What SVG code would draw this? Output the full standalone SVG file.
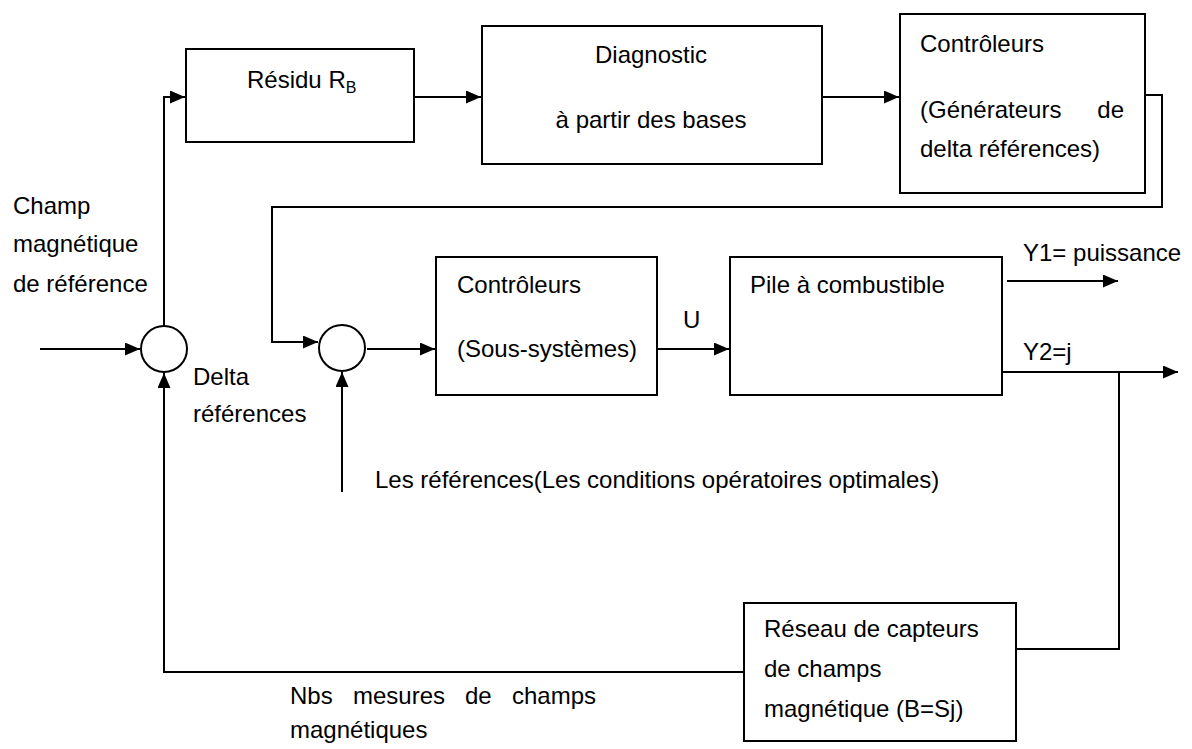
<svg xmlns="http://www.w3.org/2000/svg" width="1192" height="749" viewBox="0 0 1192 749">
<style>
text{font-family:"Liberation Sans",Arial,sans-serif;font-size:24px;fill:#000}
.box{fill:#fff;stroke:#000;stroke-width:2}
.ln{fill:none;stroke:#000;stroke-width:2}
.sub{font-size:16px}
.mid{text-anchor:middle}
.end{text-anchor:end}
</style>
<defs>
<marker id="ah" markerWidth="15" markerHeight="13" refX="15" refY="6.5" orient="auto" markerUnits="userSpaceOnUse">
<path d="M0,0 L15,6.5 L0,13 Z" fill="#000"/>
</marker>
</defs>
<rect width="1192" height="749" fill="#fff"/>
<g id="connectors">
<path class="ln" d="M164,326 V97 H185" marker-end="url(#ah)"/>
<path class="ln" d="M414,97 H481" marker-end="url(#ah)"/>
<path class="ln" d="M822,97 H899" marker-end="url(#ah)"/>
<path class="ln" d="M1145,95 H1162 V207 H272 V342 H318" marker-end="url(#ah)"/>
<path class="ln" d="M40,349 H140" marker-end="url(#ah)"/>
<path class="ln" d="M367,349 H435" marker-end="url(#ah)"/>
<path class="ln" d="M657,349 H729" marker-end="url(#ah)"/>
<path class="ln" d="M1007,281 H1118" marker-end="url(#ah)"/>
<path class="ln" d="M999,372 H1178" marker-end="url(#ah)"/>
<path class="ln" d="M1119,372 V649 H1016"/>
<path class="ln" d="M744,672 H164 V373" marker-end="url(#ah)"/>
<path class="ln" d="M342,492 V372" marker-end="url(#ah)"/>
</g>
<g id="residu">
<rect class="box" x="186" y="49" width="228" height="93"/>
<text x="247" y="88">Résidu R<tspan class="sub" dy="5">B</tspan></text>
</g>
<g id="diagnostic">
<rect class="box" x="482" y="26" width="340" height="138"/>
<text class="mid" x="651" y="63">Diagnostic</text>
<text class="mid" x="651" y="128">à partir des bases</text>
</g>
<g id="controleurs-gen">
<rect class="box" x="900" y="14" width="245" height="179"/>
<text x="920" y="52">Contrôleurs</text>
<text x="920" y="118">(Générateurs</text>
<text class="end" x="1124" y="118">de</text>
<text x="920" y="157">delta références)</text>
</g>
<g id="sum1">
<circle class="box" cx="164" cy="349" r="23"/>
</g>
<g id="sum2">
<circle class="box" cx="342" cy="348" r="23"/>
</g>
<g id="controleurs-sous">
<rect class="box" x="436" y="257" width="221" height="138"/>
<text x="457" y="293">Contrôleurs</text>
<text x="457" y="357">(Sous-systèmes)</text>
</g>
<g id="pile">
<rect class="box" x="730" y="257" width="272" height="138"/>
<text x="750" y="293">Pile à combustible</text>
</g>
<g id="reseau">
<rect class="box" x="744" y="603" width="272" height="138"/>
<text x="764" y="637">Réseau de capteurs</text>
<text x="764" y="677">de champs</text>
<text x="764" y="717">magnétique (B=Sj)</text>
</g>
<g id="labels">
<text x="13" y="214">Champ</text>
<text x="13" y="252">magnétique</text>
<text x="13" y="292">de référence</text>
<text x="193" y="385">Delta</text>
<text x="193" y="422">références</text>
<text x="683" y="328">U</text>
<text x="1023" y="261">Y1= puissance</text>
<text x="1023" y="360">Y2=j</text>
<text x="375" y="488">Les références(Les conditions opératoires optimales)</text>
<text x="290" y="704">Nbs</text>
<text x="353" y="704">mesures</text>
<text x="465" y="704">de</text>
<text class="end" x="596" y="704">champs</text>
<text x="290" y="738">magnétiques</text>
</g>
</svg>
